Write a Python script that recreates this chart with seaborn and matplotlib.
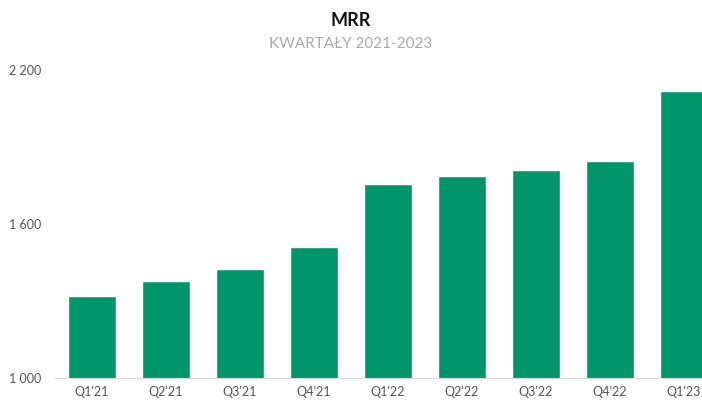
import pandas as pd
import matplotlib.pyplot as plt
import seaborn as sns

# MRR per quarter
quarters = ["Q1'21", "Q2'21", "Q3'21", "Q4'21", "Q1'22", "Q2'22", "Q3'22", "Q4'22", "Q1'23"]
mrr = [1320, 1378, 1424, 1511, 1755, 1787, 1812, 1846, 2118]
y_ticks = [1000, 1600, 2200]

df = pd.DataFrame({"Quarter": quarters, "MRR": mrr})

sns.set_theme(style="white")
plt.rcParams["font.family"] = ["Lato", "DejaVu Sans"]

fig = plt.figure(figsize=(7.02, 4.01), dpi=100)
ax = fig.add_axes([55 / 702, 23 / 401, (702 - 55) / 702, 308 / 401])

sns.barplot(data=df, x="Quarter", y="MRR", color="#00966A", saturation=1,
            width=0.64, ax=ax)

ax.set_ylim(1000, 2200)
ax.set_xlim(-0.5, (702 - 92) / 74)
ax.set_yticks(y_ticks)
ax.set_yticklabels([f"{v:,}".replace(",", " ") for v in y_ticks])
ax.set_xlabel("")
ax.set_ylabel("")
ax.tick_params(axis="y", length=0, pad=10, labelsize=9, labelcolor="#555555")
ax.tick_params(axis="x", length=0, pad=6, labelsize=9, labelcolor="#555555")
for lbl in ax.get_yticklabels():
    lbl.set_horizontalalignment("right")

for s in ["top", "right", "left"]:
    ax.spines[s].set_visible(False)
ax.spines["bottom"].set_color("#d9d9d9")
ax.spines["bottom"].set_linewidth(0.8)

fig.text(0.5, 1 - 21 / 401, "MRR", ha="center", va="center",
         fontsize=13, fontweight="bold", color="#111111")
fig.text(0.5, 1 - 44 / 401, "KWARTAŁY 2021-2023", ha="center", va="center",
         fontsize=11, color="#aaaaaa")

fig.savefig("out.png", dpi=100)
